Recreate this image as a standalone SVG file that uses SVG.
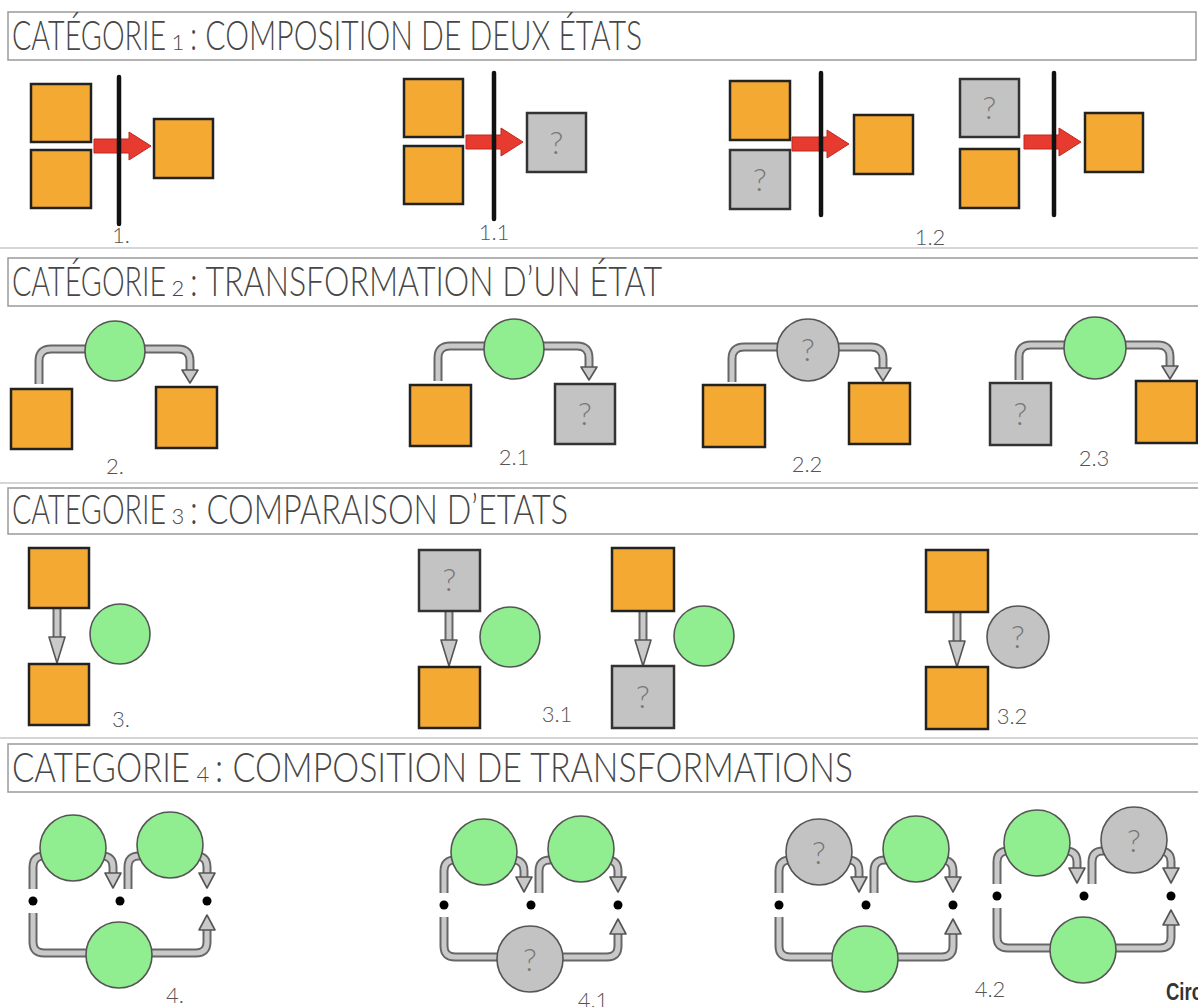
<svg xmlns="http://www.w3.org/2000/svg" xmlns:xlink="http://www.w3.org/1999/xlink" width="1198" height="1007" viewBox="0 0 1198 1007">
<style>
.hdr{fill:#fff;stroke:#9a9a9a;stroke-width:1.5}
.sep{stroke:#c8c8c8;stroke-width:1.5}
.ttl{font-family:Lato,'Liberation Sans',sans-serif;font-weight:300;font-size:42px;fill:#474747}
.num{font-family:Lato,'Liberation Sans',sans-serif;font-weight:300;font-size:22px;fill:#474747;text-anchor:middle}
.lbl{font-family:Lato,'Liberation Sans',sans-serif;font-weight:300;font-size:22px;fill:#555;text-anchor:middle}
.or{fill:#F4A933;stroke:#222;stroke-width:2.5}
.gs{fill:#C3C3C3;stroke:#333;stroke-width:2.5}
.gc{fill:#90EE90;stroke:#555;stroke-width:1.6}
.yc{fill:#C3C3C3;stroke:#555;stroke-width:1.6}
.q{font-family:Lato,'Liberation Sans',sans-serif;font-weight:300;font-size:32px;fill:#777;text-anchor:middle}
.vl{stroke:#111;stroke-width:4.5;stroke-linecap:round}
.ra{fill:#E63B2E;stroke:#C0281E;stroke-width:1}
.po{fill:none;stroke:#666;stroke-width:9}
.pi{fill:none;stroke:#C9C9C9;stroke-width:5}
.ah{fill:#C9C9C9;stroke:#555;stroke-width:1.6;stroke-linejoin:round}
.dot{fill:#000}
.circ{font-family:'Liberation Sans Narrow','Liberation Sans',sans-serif;font-weight:bold;font-size:24px;fill:#333}
</style>
<defs>
<path id="raP" d="M0,-7 H35 V-14 L57,0 L35,14 V7 H0 Z"/>
<path id="p2l" d="M-76,32 V9 Q-76,-3 -64,-3 H-20"/>
<path id="p2r" d="M20,-3 H63 Q75,-3 75,9 V19"/>
<path id="h2" d="M67,18 H83 L75,31 Z"/>
<path id="p3" d="M0,0 V31"/>
<path id="h3" d="M-8,29 H8 L0,55 Z"/>
<path id="p4a" d="M0,-12 V-34 Q0,-45 11,-45 H25"/>
<path id="p4b" d="M55,-45 H69 Q80,-45 80,-34 V-27"/>
<path id="p4c" d="M95,-12 V-34 Q95,-45 106,-45 H120"/>
<path id="p4d" d="M152,-45 H163 Q174,-45 174,-34 V-27"/>
<path id="p4e" d="M0,12 V41 Q0,52 11,52 H60"/>
<path id="p4f" d="M110,52 H163 Q174,52 174,41 V28"/>
<path id="h4a" d="M72,-28 H88 L80,-13 Z"/>
<path id="h4b" d="M166,-28 H182 L174,-13 Z"/>
<path id="h4c" d="M166,29 H182 L174,14 Z"/>
<g id="c2"><use href="#p2l" class="po"/><use href="#p2l" class="pi"/><use href="#p2r" class="po"/><use href="#p2r" class="pi"/><use href="#h2" class="ah"/></g>
<g id="c3"><use href="#p3" class="po"/><use href="#p3" class="pi"/><use href="#h3" class="ah"/></g>
<g id="c4">
<use href="#p4a" class="po"/><use href="#p4a" class="pi"/>
<use href="#p4b" class="po"/><use href="#p4b" class="pi"/>
<use href="#p4c" class="po"/><use href="#p4c" class="pi"/>
<use href="#p4d" class="po"/><use href="#p4d" class="pi"/>
<use href="#p4e" class="po"/><use href="#p4e" class="pi"/>
<use href="#p4f" class="po"/><use href="#p4f" class="pi"/>
<use href="#h4a" class="ah"/><use href="#h4b" class="ah"/><use href="#h4c" class="ah"/>
</g>
</defs>
<rect x="0" y="0" width="1198" height="1007" fill="#fff"/>

<!-- headers -->
<g id="headers">
<rect class="hdr" x="8" y="12" width="1188" height="48"/>
<text class="ttl" x="12" y="50" textLength="154" lengthAdjust="spacingAndGlyphs">CATÉGORIE</text>
<text class="num" x="178" y="50">1</text>
<text class="ttl" x="190" y="50" textLength="452" lengthAdjust="spacingAndGlyphs">: COMPOSITION DE DEUX ÉTATS</text>
<line class="sep" x1="0" y1="248" x2="1198" y2="248"/>
<rect class="hdr" x="8" y="258" width="1200" height="48"/>
<text class="ttl" x="12" y="296" textLength="154" lengthAdjust="spacingAndGlyphs">CATÉGORIE</text>
<text class="num" x="178" y="296">2</text>
<text class="ttl" x="190" y="296" textLength="472" lengthAdjust="spacingAndGlyphs">: TRANSFORMATION D’UN ÉTAT</text>
<line class="sep" x1="0" y1="483" x2="1198" y2="483"/>
<rect class="hdr" x="8" y="488" width="1200" height="46"/>
<text class="ttl" x="12" y="524" textLength="154" lengthAdjust="spacingAndGlyphs">CATEGORIE</text>
<text class="num" x="178" y="524">3</text>
<text class="ttl" x="190" y="524" textLength="378" lengthAdjust="spacingAndGlyphs">: COMPARAISON D’ETATS</text>
<line class="sep" x1="0" y1="738" x2="1198" y2="738"/>
<rect class="hdr" x="8" y="744" width="1200" height="48"/>
<text class="ttl" x="12" y="782" textLength="178" lengthAdjust="spacingAndGlyphs">CATEGORIE</text>
<text class="num" x="203" y="782">4</text>
<text class="ttl" x="215" y="782" textLength="638" lengthAdjust="spacingAndGlyphs">: COMPOSITION DE TRANSFORMATIONS</text>
</g>

<!-- connectors -->
<g id="connectors">
<use href="#raP" class="ra" transform="translate(94,146)"/>
<use href="#raP" class="ra" transform="translate(466,142)"/>
<use href="#raP" class="ra" transform="translate(792,144)"/>
<use href="#raP" class="ra" transform="translate(1024,142)"/>
<use href="#c2" transform="translate(115,352)"/>
<use href="#c2" transform="translate(514,349)"/>
<use href="#c2" transform="translate(808,350)"/>
<use href="#c2" transform="translate(1095,348)"/>
<use href="#c3" transform="translate(57,608)"/>
<use href="#c3" transform="translate(449,611)"/>
<use href="#c3" transform="translate(643,611)"/>
<use href="#c3" transform="translate(957,612)"/>
<use href="#c4" transform="translate(33,901)"/>
<use href="#c4" transform="translate(444,905)"/>
<use href="#c4" transform="translate(779,905)"/>
<use href="#c4" transform="translate(997,896)"/>
</g>

<!-- bars -->
<g id="bars">
<line class="vl" x1="119" y1="77" x2="119" y2="224"/>
<line class="vl" x1="494" y1="73" x2="494" y2="219"/>
<line class="vl" x1="821" y1="73" x2="821" y2="215"/>
<line class="vl" x1="1054" y1="73" x2="1054" y2="215"/>
</g>

<!-- category 1 -->
<g id="n1-a"><rect class="or" x="31" y="84" width="60" height="58"/></g>
<g id="n1-b"><rect class="or" x="31" y="150" width="60" height="58"/></g>
<g id="n1-c"><rect class="or" x="154" y="119" width="59" height="59"/></g>
<g id="n11-a"><rect class="or" x="404" y="79" width="59" height="58"/></g>
<g id="n11-b"><rect class="or" x="404" y="146" width="59" height="58"/></g>
<g id="n11-c"><rect class="gs" x="527" y="113" width="59" height="59"/><text class="q" x="556.5" y="154">?</text></g>
<g id="n12a-a"><rect class="or" x="730" y="81" width="60" height="59"/></g>
<g id="n12a-b"><rect class="gs" x="730" y="150" width="60" height="59"/><text class="q" x="760" y="191">?</text></g>
<g id="n12a-c"><rect class="or" x="854" y="115" width="59" height="59"/></g>
<g id="n12b-a"><rect class="gs" x="960" y="79" width="59" height="58"/><text class="q" x="989.5" y="119">?</text></g>
<g id="n12b-b"><rect class="or" x="960" y="149" width="59" height="59"/></g>
<g id="n12b-c"><rect class="or" x="1085" y="113" width="58" height="59"/></g>
<text class="lbl" x="121" y="243">1.</text>
<text class="lbl" x="494" y="240">1.1</text>
<text class="lbl" x="930" y="245">1.2</text>

<!-- category 2 -->
<g id="n2-t"><circle class="gc" cx="115" cy="351" r="30"/></g>
<g id="n2-a"><rect class="or" x="11" y="389" width="61" height="60"/></g>
<g id="n2-b"><rect class="or" x="156" y="387" width="61" height="61"/></g>
<g id="n21-t"><circle class="gc" cx="514" cy="349" r="30"/></g>
<g id="n21-a"><rect class="or" x="410" y="385" width="61" height="61"/></g>
<g id="n21-b"><rect class="gs" x="555" y="384" width="60" height="60"/><text class="q" x="585" y="425">?</text></g>
<g id="n22-t"><circle class="yc" cx="808" cy="350" r="31"/><text class="q" x="808" y="361">?</text></g>
<g id="n22-a"><rect class="or" x="703" y="385" width="62" height="62"/></g>
<g id="n22-b"><rect class="or" x="849" y="383" width="61" height="61"/></g>
<g id="n23-t"><circle class="gc" cx="1095" cy="348" r="31"/></g>
<g id="n23-a"><rect class="gs" x="990" y="383" width="61" height="62"/><text class="q" x="1020.5" y="425">?</text></g>
<g id="n23-b"><rect class="or" x="1136" y="381" width="61" height="62"/></g>
<text class="lbl" x="115" y="474">2.</text>
<text class="lbl" x="514" y="465">2.1</text>
<text class="lbl" x="807" y="472">2.2</text>
<text class="lbl" x="1094" y="466">2.3</text>

<!-- category 3 -->
<g id="n3-a"><rect class="or" x="29" y="548" width="60" height="60"/></g>
<g id="n3-b"><rect class="or" x="29" y="664" width="60" height="61"/></g>
<g id="n3-t"><circle class="gc" cx="120" cy="634" r="30"/></g>
<g id="n31-a"><rect class="gs" x="419" y="550" width="61" height="61"/><text class="q" x="449.5" y="591">?</text></g>
<g id="n31-b"><rect class="or" x="419" y="667" width="61" height="61"/></g>
<g id="n31-t"><circle class="gc" cx="510" cy="637" r="30"/></g>
<g id="n31b-a"><rect class="or" x="612" y="548" width="62" height="63"/></g>
<g id="n31b-b"><rect class="gs" x="612" y="666" width="62" height="62"/><text class="q" x="643" y="708">?</text></g>
<g id="n31b-t"><circle class="gc" cx="704" cy="636" r="30"/></g>
<g id="n32-a"><rect class="or" x="926" y="550" width="62" height="62"/></g>
<g id="n32-b"><rect class="or" x="926" y="667" width="62" height="62"/></g>
<g id="n32-t"><circle class="yc" cx="1018" cy="637" r="31"/><text class="q" x="1018" y="648">?</text></g>
<text class="lbl" x="121" y="727">3.</text>
<text class="lbl" x="557" y="722">3.1</text>
<text class="lbl" x="1012" y="724">3.2</text>

<!-- category 4 -->
<g id="d4" transform="translate(33,901)">
<g id="n4-a"><circle class="gc" cx="40" cy="-53" r="33"/></g>
<g id="n4-b"><circle class="gc" cx="137" cy="-56" r="33"/></g>
<g id="n4-c"><circle class="gc" cx="86" cy="54" r="33"/></g>
<g id="n4-s0"><circle class="dot" cx="0" cy="0" r="4.5"/></g>
<g id="n4-s1"><circle class="dot" cx="87" cy="0" r="4.5"/></g>
<g id="n4-s2"><circle class="dot" cx="174" cy="0" r="4.5"/></g>
</g>
<g id="d41" transform="translate(444,905)">
<g id="n41-a"><circle class="gc" cx="40" cy="-53" r="33"/></g>
<g id="n41-b"><circle class="gc" cx="137" cy="-56" r="33"/></g>
<g id="n41-c"><circle class="yc" cx="86" cy="54" r="33"/><text class="q" x="86" y="66">?</text></g>
<g id="n41-s0"><circle class="dot" cx="0" cy="0" r="4.5"/></g>
<g id="n41-s1"><circle class="dot" cx="87" cy="0" r="4.5"/></g>
<g id="n41-s2"><circle class="dot" cx="174" cy="0" r="4.5"/></g>
</g>
<g id="d42a" transform="translate(779,905)">
<g id="n42a-a"><circle class="yc" cx="40" cy="-53" r="33"/><text class="q" x="40" y="-41">?</text></g>
<g id="n42a-b"><circle class="gc" cx="137" cy="-56" r="33"/></g>
<g id="n42a-c"><circle class="gc" cx="86" cy="54" r="33"/></g>
<g id="n42a-s0"><circle class="dot" cx="0" cy="0" r="4.5"/></g>
<g id="n42a-s1"><circle class="dot" cx="87" cy="0" r="4.5"/></g>
<g id="n42a-s2"><circle class="dot" cx="174" cy="0" r="4.5"/></g>
</g>
<g id="d42b" transform="translate(997,896)">
<g id="n42b-a"><circle class="gc" cx="40" cy="-53" r="33"/></g>
<g id="n42b-b"><circle class="yc" cx="137" cy="-56" r="33"/><text class="q" x="137" y="-44">?</text></g>
<g id="n42b-c"><circle class="gc" cx="86" cy="54" r="33"/></g>
<g id="n42b-s0"><circle class="dot" cx="0" cy="0" r="4.5"/></g>
<g id="n42b-s1"><circle class="dot" cx="87" cy="0" r="4.5"/></g>
<g id="n42b-s2"><circle class="dot" cx="174" cy="0" r="4.5"/></g>
</g>
<text class="lbl" x="175" y="1003">4.</text>
<text class="lbl" x="593" y="1008">4.1</text>
<text class="lbl" x="990" y="997">4.2</text>
<text class="circ" x="1166" y="1000" textLength="36" lengthAdjust="spacingAndGlyphs">Circ</text>
</svg>
